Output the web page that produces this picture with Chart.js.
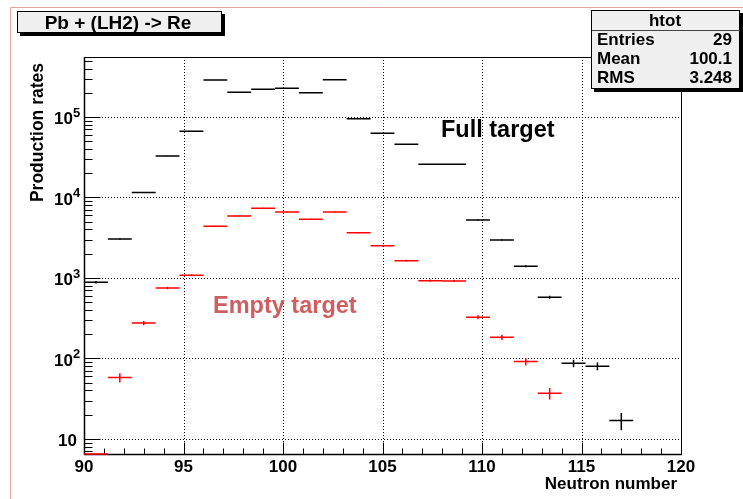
<!DOCTYPE html>
<html><head><meta charset="utf-8">
<script src="https://cdn.jsdelivr.net/npm/chart.js@4.4.0/dist/chart.umd.min.js"></script>
<style>html,body{margin:0;padding:0;background:#fff;overflow:hidden}canvas{display:block}</style>
</head><body>
<canvas id="c" width="743" height="499"></canvas>
<script>
// ---- data (bins of width 1.2 from 90 to 120) ----
const binEdges = [90, 91.2, 92.4, 93.6, 94.8, 96, 97.2, 98.4, 99.6, 100.8, 102, 103.2, 104.4, 105.6, 106.8, 108, 109.2, 110.4, 111.6, 112.8, 114, 115.2, 116.4, 117.6, 118.8, 120];
const fullTarget    = [885, 3050, 11500, 32800, 66400, 288000, 203000, 221000, 227000, 200000, 291000, 95300, 62700, 45800, 25800, 25800, 5250, 2970, 1400, 575, 87, 80, 16.9, null, null];
const fullTargetErr = [30, 55, 107, 181, 258, 537, 451, 470, 476, 447, 539, 309, 250, 214, 161, 161, 72, 54, 37, 24, 9.3, 8.9, 4.1, null, null];
const emptyTarget    = [6.5, 57.8, 276, 751, 1080, 4390, 5890, 7340, 6600, 5360, 6600, 3650, 2520, 1640, 926, 918, 325, 183, 91.4, 36.9, null, null, null, null, null];
const emptyTargetErr = [0, 7.6, 16.6, 27.4, 32.9, 66, 77, 86, 81, 73, 81, 60, 50, 40, 30, 30, 18, 13.5, 9.6, 6.1, null, null, null, null, null];
const xTickValues = [90, 95, 100, 105, 110, 115, 120];
const yTickExponents = [1, 2, 3, 4, 5];
const titleText = 'Pb + (LH2) -> Re';
const statsTitle = 'htot';
const statsLabels = ['Entries', 'Mean', 'RMS'];
const statsValues = ['29', '100.1', '3.248'];
const xAxisTitle = 'Neutron number';
const yAxisTitle = 'Production rates';
const labelFull = 'Full target';
const labelEmpty = 'Empty target';

const FAM = '"Liberation Sans", Arial, Helvetica, sans-serif';
const bf = s => `bold ${s}px ${FAM}`;

function histSegments(vals) {
  const pts = [];
  vals.forEach((v, i) => {
    if (v == null) return;
    pts.push({x: binEdges[i], y: v}, {x: binEdges[i + 1], y: v}, {x: binEdges[i + 1], y: null});
  });
  return pts;
}
function errSegments(vals, errs) {
  const pts = [];
  vals.forEach((v, i) => {
    const e = errs[i];
    if (v == null || !e) return;
    const c = (binEdges[i] + binEdges[i + 1]) / 2;
    pts.push({x: c, y: v - e}, {x: c, y: v + e}, {x: c, y: null});
  });
  return pts;
}

const decor = {
  id: 'decor',
  beforeDatasetsDraw(chart) {
    const {ctx, chartArea: a, scales: {x, y}} = chart;
    const L = (x1, y1, x2, y2) => { ctx.beginPath(); ctx.moveTo(x1, y1); ctx.lineTo(x2, y2); ctx.stroke(); };
    ctx.save();
    ctx.strokeStyle = '#000'; ctx.lineWidth = 1;
    // dotted grid
    ctx.setLineDash([1, 2]);
    xTickValues.forEach(v => {
      if (v <= x.min || v >= x.max) return;
      const px = Math.round(x.getPixelForValue(v)) + 0.5;
      L(px, a.top, px, a.bottom);
    });
    yTickExponents.forEach(k => {
      const py = Math.round(y.getPixelForValue(Math.pow(10, k))) + 0.5;
      L(a.left, py, a.right, py);
    });
    ctx.setLineDash([]);
    // frame
    const l = Math.round(a.left) + 0.5, r = Math.round(a.right) + 0.5, t = Math.round(a.top) + 0.5, b = Math.round(a.bottom) + 0.5;
    L(l, t, r, t); L(r, t, r, b);
    ctx.lineWidth = 1.5;
    L(l, a.top, l, b + 0.5); L(a.left, b, a.right + 1, b);
    ctx.lineWidth = 1;
    // x ticks (inward)
    for (let v = Math.ceil(x.min); v <= x.max; v++) {
      const px = Math.round(x.getPixelForValue(v)) + 0.5;
      const len = (v % 5 === 0) ? 12 : 6;
      L(px, b, px, b - len);
    }
    // y ticks (inward)
    for (let k = 0; k <= 6; k++) {
      for (let m = 1; m <= 9; m++) {
        const v = m * Math.pow(10, k);
        if (v < y.min || v > y.max) continue;
        const py = Math.round(y.getPixelForValue(v)) + 0.5;
        L(l, py, l + (m === 1 ? 16 : 8), py);
      }
    }
    // y tick labels 10^k
    ctx.fillStyle = '#000';
    ctx.textBaseline = 'alphabetic';
    yTickExponents.forEach(k => {
      const py = y.getPixelForValue(Math.pow(10, k));
      if (k === 1) {
        ctx.font = bf(17); ctx.textAlign = 'right';
        ctx.fillText('10', 77, py + 7.5);
      } else {
        ctx.font = bf(13); ctx.textAlign = 'left';
        ctx.fillText(String(k), 73, py);
        ctx.font = bf(17); ctx.textAlign = 'right';
        ctx.fillText('10', 73, py + 7.5);
      }
    });
    ctx.restore();
  },
  afterDraw(chart) {
    const {ctx} = chart;
    ctx.save();
    // canvas border (pink)
    ctx.strokeStyle = '#e3a3a3'; ctx.lineWidth = 1;
    ctx.beginPath(); ctx.moveTo(10.5, 499); ctx.lineTo(10.5, 7.5); ctx.lineTo(743, 7.5); ctx.stroke();
    // title box
    ctx.fillStyle = '#000';
    ctx.fillRect(20, 14, 205, 22);
    ctx.fillStyle = '#f0f0f0';
    ctx.fillRect(17, 11, 205, 22);
    ctx.strokeStyle = '#000';
    ctx.strokeRect(17.5, 11.5, 204, 21);
    ctx.fillStyle = '#000'; ctx.font = bf(19); ctx.textAlign = 'center'; ctx.textBaseline = 'alphabetic';
    ctx.fillText(titleText, 118, 29);
    // stats box
    ctx.fillStyle = '#000';
    ctx.fillRect(594, 13, 149, 79);
    ctx.fillStyle = '#f0f0f0';
    ctx.fillRect(591, 10, 149, 79);
    ctx.strokeStyle = '#000';
    ctx.strokeRect(591.5, 10.5, 148, 78);
    ctx.strokeStyle = '#444';
    ctx.beginPath(); ctx.moveTo(592, 30.5); ctx.lineTo(740, 30.5); ctx.stroke();
    ctx.fillStyle = '#000'; ctx.font = bf(17);
    ctx.textAlign = 'center'; ctx.fillText(statsTitle, 665, 26);
    const rows = [45, 64, 83];
    statsLabels.forEach((s, i) => {
      ctx.textAlign = 'left'; ctx.fillText(s, 597, rows[i]);
      ctx.textAlign = 'right'; ctx.fillText(statsValues[i], 732, rows[i]);
    });
    // axis titles
    ctx.font = bf(17);
    ctx.textAlign = 'right';
    ctx.fillText(xAxisTitle, 677, 489);
    ctx.save();
    ctx.translate(43, 63); ctx.rotate(-Math.PI / 2);
    ctx.font = bf(17.5);
    ctx.textAlign = 'right'; ctx.fillText(yAxisTitle, 0, 0);
    ctx.restore();
    // annotations
    ctx.font = bf(23.5); ctx.textAlign = 'left';
    ctx.fillStyle = '#000'; ctx.fillText(labelFull, 441, 137);
    ctx.fillStyle = '#cf5e61'; ctx.fillText(labelEmpty, 213, 313);
    ctx.restore();
  }
};

new Chart(document.getElementById('c'), {
  type: 'line',
  data: {
    datasets: [
      {label: 'Empty target', data: histSegments(emptyTarget), borderColor: '#ff0000', borderWidth: 1.5, pointRadius: 0, spanGaps: false, tension: 0, clip: 2},
      {label: 'Empty target err', data: errSegments(emptyTarget, emptyTargetErr), borderColor: '#ff0000', borderWidth: 1.5, pointRadius: 0, spanGaps: false, tension: 0},
      {label: 'Full target', data: histSegments(fullTarget), borderColor: '#000000', borderWidth: 1.5, pointRadius: 0, spanGaps: false, tension: 0},
      {label: 'Full target err', data: errSegments(fullTarget, fullTargetErr), borderColor: '#000000', borderWidth: 1.5, pointRadius: 0, spanGaps: false, tension: 0}
    ]
  },
  options: {
    responsive: false, animation: false, devicePixelRatio: 1,
    layout: {padding: {top: 57, right: 62, left: 0, bottom: 0}},
    plugins: {legend: {display: false}, tooltip: {enabled: false}, title: {display: false}},
    scales: {
      x: {
        type: 'linear', min: 90, max: 120,
        afterFit: s => { s.height = 45; },
        afterBuildTicks: s => { s.ticks = xTickValues.map(v => ({value: v})); },
        grid: {display: false, drawTicks: false},
        border: {display: false},
        ticks: {color: '#000', font: {family: FAM, size: 17, weight: 'bold'}, padding: 3, maxRotation: 0, autoSkip: false}
      },
      y: {
        type: 'logarithmic', min: 6.5, max: 556000,
        afterFit: s => { s.width = 84; },
        grid: {display: false, drawTicks: false},
        border: {display: false},
        ticks: {display: false}
      }
    }
  },
  plugins: [decor]
});
</script>
</body></html>
